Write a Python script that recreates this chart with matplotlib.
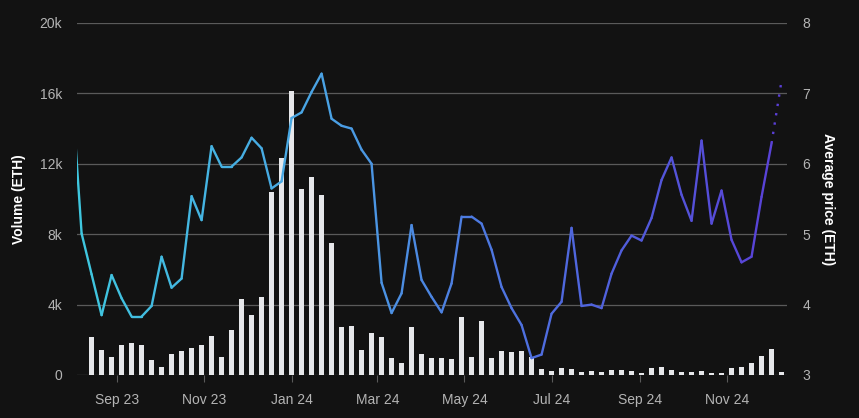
import numpy as np
import pandas as pd
import matplotlib
matplotlib.use("Agg")
import matplotlib.pyplot as plt
import matplotlib.dates as mdates
from matplotlib.collections import LineCollection
from matplotlib.colors import LinearSegmentedColormap

plt.rcParams['font.family'] = ['Liberation Sans', 'DejaVu Sans']

# weekly volume (ETH), weeks starting Mon 2023-08-14
vol_weeks = pd.date_range("2023-08-14", periods=70, freq="7D")
volume = [2177, 1420, 1040, 1723, 1837, 1723, 852, 473, 1212, 1383,
          1553, 1723, 2235, 1040, 2557, 4318, 3409, 4432, 10417, 12311,
          16136, 10549, 11269, 10227, 7519, 2709, 2784, 1439, 2405, 2177,
          985, 701, 2746, 1212, 985, 985, 909, 3315, 1040, 3068,
          985, 1383, 1326, 1383, 1040, 341, 227, 417, 341, 189,
          246, 170, 284, 284, 246, 133, 417, 473, 284, 189,
          189, 246, 133, 133, 417, 473, 701, 1080, 1496, 189]

# weekly average price (ETH), starting 2023-07-31
price_weeks = pd.date_range("2023-07-31", periods=72, freq="7D")
avg_price = [7.10, 5.01, 4.43, 3.85, 4.42, 4.09, 3.83, 3.83, 3.98, 4.68,
             4.24, 4.37, 5.54, 5.20, 6.25, 5.96, 5.96, 6.09, 6.37, 6.22,
             5.65, 5.75, 6.65, 6.73, 7.02, 7.28, 6.64, 6.54, 6.50, 6.20,
             6.00, 4.31, 3.88, 4.16, 5.13, 4.35, 4.11, 3.89, 4.30, 5.25,
             5.25, 5.15, 4.78, 4.25, 3.95, 3.71, 3.24, 3.29, 3.87, 4.04,
             5.09, 3.98, 4.00, 3.95, 4.44, 4.77, 4.98, 4.91, 5.23, 5.77,
             6.09, 5.56, 5.19, 6.33, 5.15, 5.62, 4.92, 4.60, 4.68, 5.53,
             6.29, 7.18]

bg = "#121212"
fig = plt.figure(figsize=(8.59, 4.18), dpi=100, facecolor=bg)
ax = fig.add_axes([0.0900, 0.1029, 0.8262, 0.8421])
ax.set_facecolor(bg)

x0 = mdates.date2num(pd.Timestamp("2023-08-04"))
x1 = mdates.date2num(pd.Timestamp("2024-12-12 20:00"))

# bars
ax.bar(mdates.date2num(vol_weeks), volume, width=3.2, color="#e6e7ea", zorder=2)
ax.set_ylim(0, 20000)
ax.set_yticks([0, 4000, 8000, 12000, 16000, 20000])
ax.set_yticklabels(["0", "4k", "8k", "12k", "16k", "20k"])
ax.set_xlim(x0, x1)
ax.grid(axis="y", color="#5a5a5a", linewidth=0.9, zorder=0)
for s in ax.spines.values():
    s.set_visible(False)
ax.tick_params(axis="y", length=0, colors="#b4b4b4", labelsize=10, pad=11)
ax.tick_params(axis="x", length=5, color="#5a5a5a", colors="#b4b4b4", labelsize=10, pad=8)
ax.xaxis.set_major_locator(mdates.MonthLocator(bymonth=[1, 3, 5, 7, 9, 11]))
ax.xaxis.set_major_formatter(mdates.DateFormatter("%b %y"))
ax.set_ylabel("Volume (ETH)", color="white", fontweight="bold", fontsize=10, labelpad=10)

# price line with gradient
ax2 = ax.twinx()
ax2.set_ylim(3, 8)
ax2.set_yticks([3, 4, 5, 6, 7, 8])
for s in ax2.spines.values():
    s.set_visible(False)
ax2.tick_params(axis="y", length=0, colors="#b4b4b4", labelsize=10, pad=11)
ax2.set_ylabel("Average price (ETH)", color="white", fontweight="bold", fontsize=10,
               rotation=270, labelpad=18)

cmap = LinearSegmentedColormap.from_list("grad", [
    (0.0, "#3fc7df"), (0.35, "#4aa2e4"), (0.55, "#4d7ce1"),
    (0.75, "#5060dc"), (1.0, "#5a3fd6")])

px = mdates.date2num(price_weeks)
py = np.array(avg_price)
pts = np.column_stack([px, py]).reshape(-1, 1, 2)
segs = np.concatenate([pts[:-1], pts[1:]], axis=1)
mids = (px[:-1] + px[1:]) / 2
cols = cmap(np.clip((mids - x0) / (x1 - x0), 0, 1))
solid = LineCollection(segs[:-1], colors=cols[:-1], linewidths=1.7, capstyle="round",
                       joinstyle="round", zorder=3)
ax2.add_collection(solid)
ax2.plot(px[-2:], py[-2:], linestyle=(0, (1, 3)), color="#5a3fd6", linewidth=1.7, zorder=3)
ax2.set_xlim(x0, x1)

fig.savefig("out.png", dpi=100, facecolor=bg)
